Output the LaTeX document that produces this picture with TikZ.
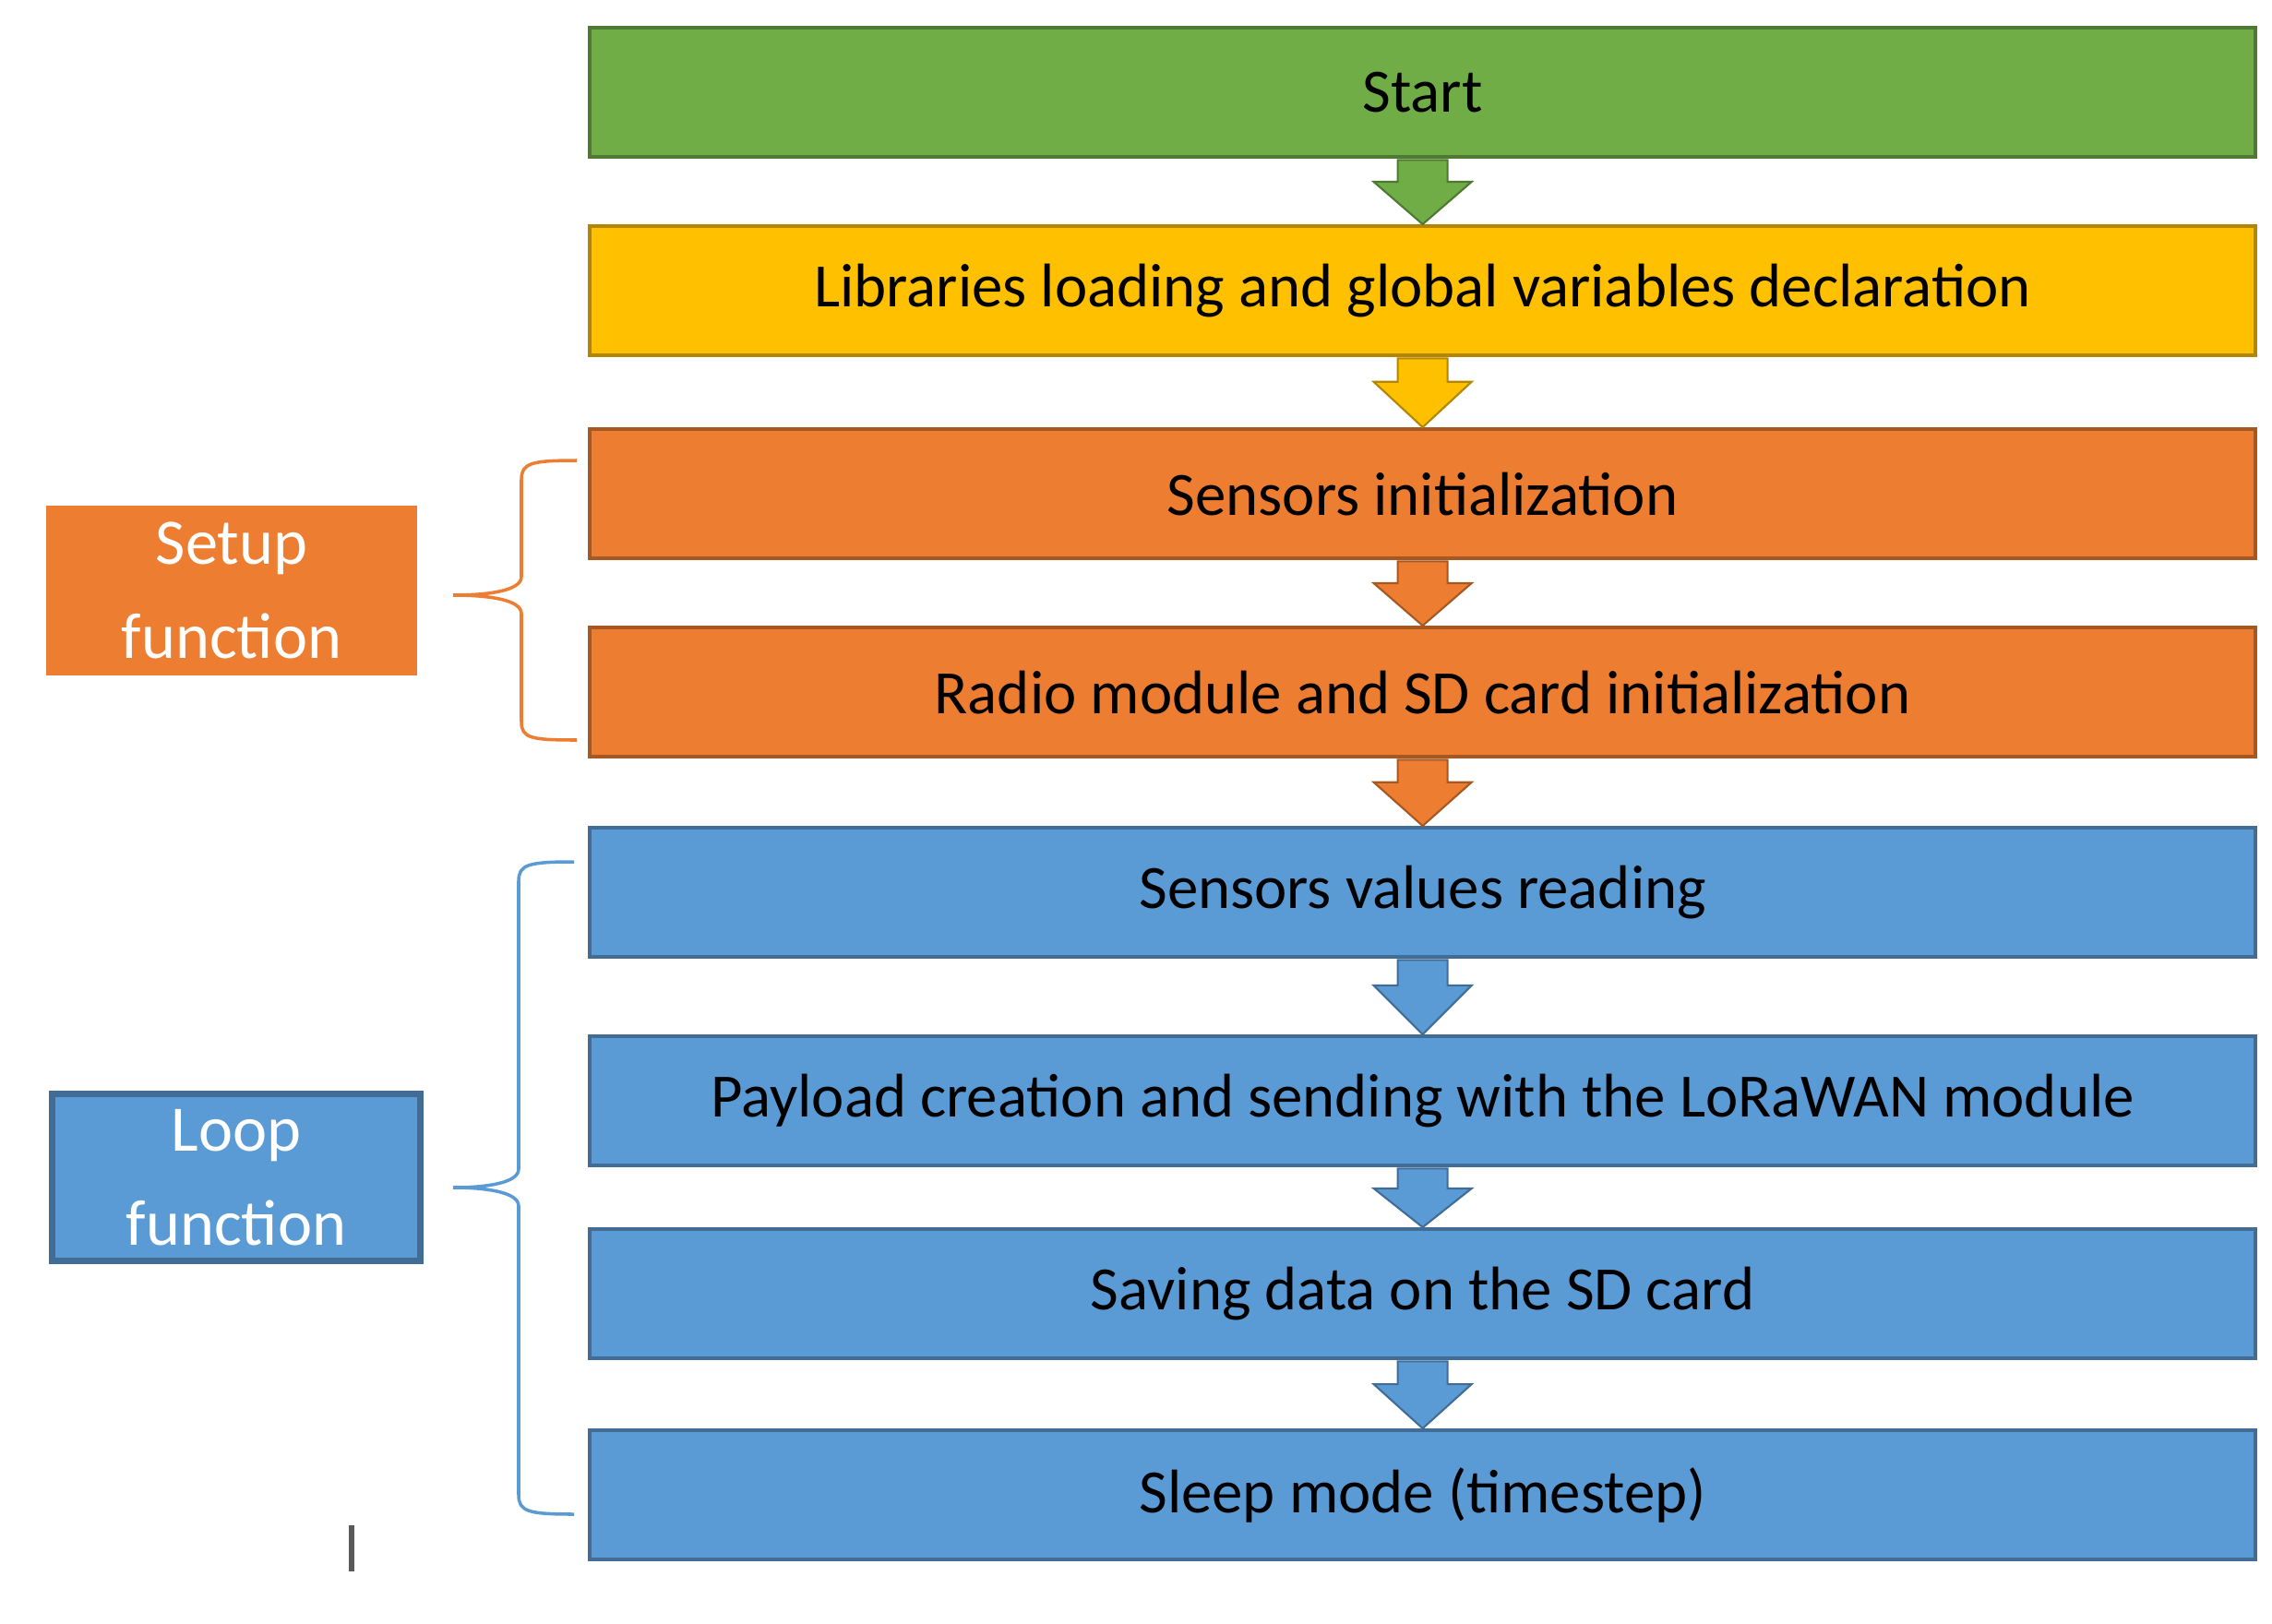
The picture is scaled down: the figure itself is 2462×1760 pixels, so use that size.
\documentclass[tikz,border=0pt]{standalone}
\usepackage{fontspec}
\setmainfont{Carlito}
\usetikzlibrary{calc}
\begin{document}
\begin{tikzpicture}[x=0.01cm,y=-0.01cm,
  fs/.style={font=\fontsize{19}{28}\selectfont},
  step/.style={draw=#1!70!black,fill=#1,line width=1.2pt,minimum width=18.04cm,minimum height=1.40cm,inner sep=0pt,anchor=north west,fs},
  arr/.style={draw=#1!70!black,fill=#1,line width=0.6pt},
  side/.style={fill=#1,text=white,align=center,inner sep=0pt,font=\fontsize{20}{29}\selectfont},
  brace/.style={draw=#1,line width=1pt}]
\definecolor{cg}{HTML}{70AD47}\definecolor{cy}{HTML}{FFC000}
\definecolor{co}{HTML}{ED7D31}\definecolor{cb}{HTML}{5B9BD5}
\useasboundingbox (0,0) rectangle (2462,1760);
\node[step=cg] (s0) at (637,28) {Start};
\node[step=cy] (s1) at (637,243) {Libraries loading and global variables declaration};
\node[step=co] (s2) at (637,463) {Sensors initialization};
\node[step=co] (s3) at (637,678) {Radio module and SD card initialization};
\node[step=cb] (s4) at (637,895) {Sensors values reading};
\node[step=cb] (s5) at (637,1121) {Payload creation and sending with the LoRaWAN module};
\node[step=cb] (s6) at (637,1330) {Saving data on the SD card};
\node[step=cb] (s7) at (637,1548) {Sleep mode (timestep)};
\foreach \a/\b/\c in {s0/s1/cg,s1/s2/cy,s2/s3/co,s3/s4/co,s4/s5/cb,s5/s6/cb,s6/s7/cb}{
  \path (\a.south) coordinate (t) (\b.north) coordinate (u);
  \draw[arr=\c] ($(t)+(-27,1)$) -- ($(t)+(27,1)$) -- ($(t)!0.35!(u)+(27,0)$) -- ($(t)!0.35!(u)+(53,0)$) -- (u) -- ($(t)!0.35!(u)+(-53,0)$) -- ($(t)!0.35!(u)+(-27,0)$) -- cycle;
}
\node[side=co,minimum width=4.01cm,minimum height=1.84cm] (setup) at (251,640) {Setup\\function};
\node[side=cb,draw=cb!70!black,line width=2pt,minimum width=3.98cm,minimum height=1.81cm] (loop) at (256,1276) {Loop\\function};
\draw[brace=co] (625,499) .. controls (575,499) and (565,502) .. (565,520) -- (565,625) .. controls (565,640) and (530,645) .. (491,645);
\draw[brace=co] (491,645) .. controls (530,645) and (565,650) .. (565,665) -- (565,782) .. controls (565,800) and (575,802) .. (625,802);
\draw[brace=cb] (622,934) .. controls (572,934) and (562,937) .. (562,955) -- (562,1267) .. controls (562,1282) and (527,1287) .. (491,1287);
\draw[brace=cb] (491,1287) .. controls (527,1287) and (562,1292) .. (562,1307) -- (562,1620) .. controls (562,1638) and (572,1641) .. (622,1641);
\draw[gray!70!black,line width=1.5pt] (381,1653) -- (381,1703);
\end{tikzpicture}
\end{document}
